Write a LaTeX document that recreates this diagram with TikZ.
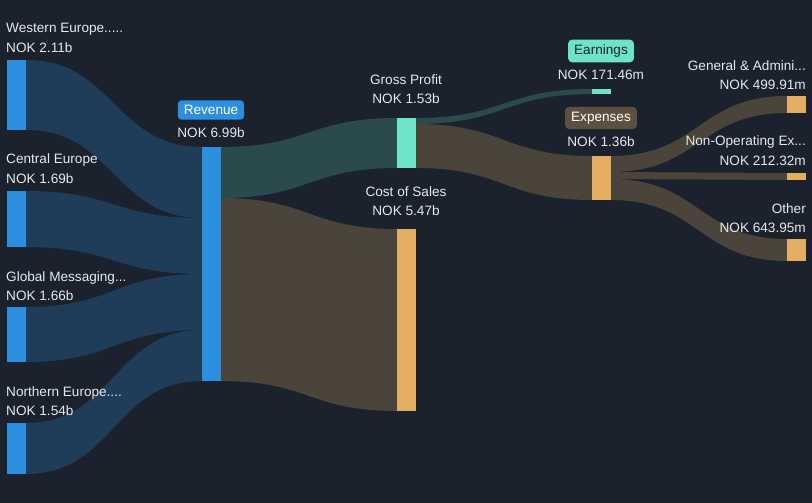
\documentclass[tikz,border=0pt]{standalone}
\usepackage{fontspec}
\setmainfont{Liberation Sans}
\definecolor{bg}{HTML}{1B222D}
\definecolor{bluebar}{HTML}{2B8FDD}
\definecolor{blueflow}{HTML}{1F3D58}
\definecolor{teal}{HTML}{6DE3C9}
\definecolor{tealflow}{HTML}{2B4A4D}
\definecolor{tan}{HTML}{E3AE62}
\definecolor{brownflow}{HTML}{4B443A}
\definecolor{expbox}{HTML}{5E5040}
\definecolor{txt}{HTML}{E6E8EB}
\newcommand{\sflow}[7]{\fill[#7] (#1,#2) .. controls ({(#1+#4)/2},#2) and ({(#1+#4)/2},#5) .. (#4,#5) -- (#4,#6) .. controls ({(#1+#4)/2},#6) and ({(#1+#4)/2},#3) .. (#1,#3) -- cycle;}
\begin{document}
\begin{tikzpicture}[x=1pt,y=-1pt,
  lab/.style={text=txt,font=\fontsize{13.6}{15}\selectfont,inner sep=0pt},
  tag/.style={rounded corners=4pt,font=\fontsize{13.6}{15}\selectfont,inner xsep=6pt,inner ysep=5pt}]
\fill[bg] (0,0) rectangle (812,503);
\useasboundingbox (0,0) rectangle (812,503);
% flows
\sflow{26}{60}{130}{202}{147}{218}{blueflow}
\sflow{26}{191}{247}{202}{218}{274}{blueflow}
\sflow{26}{307}{362}{202}{274}{330}{blueflow}
\sflow{26}{423}{474}{202}{330}{381}{blueflow}
\sflow{221}{147}{198}{397}{118}{168}{tealflow}
\sflow{221}{198}{381}{397}{229}{411}{brownflow}
\sflow{416}{118}{124}{592}{89}{94}{tealflow}
\sflow{416}{124}{168}{592}{156}{200}{brownflow}
\sflow{611}{156}{172}{787}{96}{113}{brownflow}
\sflow{611}{172}{179}{787}{173}{180}{brownflow}
\sflow{611}{179}{200}{787}{239}{261}{brownflow}
% bars
\fill[bluebar] (7,60) rectangle (26,130);
\fill[bluebar] (7,191) rectangle (26,247);
\fill[bluebar] (7,307) rectangle (26,362);
\fill[bluebar] (7,423) rectangle (26,474);
\fill[bluebar] (202,147) rectangle (221,381);
\fill[teal] (397,118) rectangle (416,168);
\fill[tan] (397,229) rectangle (416,411);
\fill[teal] (592,89) rectangle (611,94);
\fill[tan] (592,156) rectangle (611,200);
\fill[tan] (787,96) rectangle (806,113);
\fill[tan] (787,173) rectangle (806,180);
\fill[tan] (787,239) rectangle (806,261);
% labels
\node[lab,anchor=west] (w1) at (6,29) {Western Europe.....};
\node[lab,anchor=west] (w2) at (6,48) {NOK 2.11b};
\node[lab,anchor=west] (c1) at (6,160) {Central Europe};
\node[lab,anchor=west] (c2) at (6,179) {NOK 1.69b};
\node[lab,anchor=west] (g1) at (6,278) {Global Messaging...};
\node[lab,anchor=west] (g2) at (6,296) {NOK 1.66b};
\node[lab,anchor=west] (n1) at (6,393) {Northern Europe....};
\node[lab,anchor=west] (n2) at (6,411) {NOK 1.54b};
\node[tag,fill=bluebar,text=white] (rv) at (211,110) {Revenue};
\node[lab] (rv2) at (211,133) {NOK 6.99b};
\node[lab] (gp1) at (406,80) {Gross Profit};
\node[lab] (gp2) at (406,99) {NOK 1.53b};
\node[lab] (cs1) at (406,192) {Cost of Sales};
\node[lab] (cs2) at (406,211) {NOK 5.47b};
\node[tag,fill=teal,text=bg] (ea) at (601,51) {Earnings};
\node[lab] (ea2) at (601,75) {NOK 171.46m};
\node[tag,fill=expbox,text=white] (ex) at (601,118) {Expenses};
\node[lab] (ex2) at (601,142) {NOK 1.36b};
\node[lab,anchor=east] (ga1) at (806,66) {General \& Admini...};
\node[lab,anchor=east] (ga2) at (806,85) {NOK 499.91m};
\node[lab,anchor=east] (no1) at (806,142) {Non-Operating Ex...};
\node[lab,anchor=east] (no2) at (806,161) {NOK 212.32m};
\node[lab,anchor=east] (ot1) at (806,209) {Other};
\node[lab,anchor=east] (ot2) at (806,228) {NOK 643.95m};
\end{tikzpicture}
\end{document}
